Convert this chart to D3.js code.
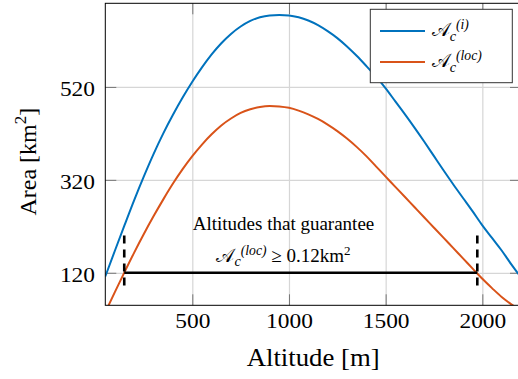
<!DOCTYPE html>
<html>
<head>
<meta charset="utf-8">
<script src="https://cdn.jsdelivr.net/npm/d3@7"></script>
<style>
  body { margin: 0; background: #fff; }
  svg { display: block; }
  svg text { font-family: "Liberation Serif", "DejaVu Serif", serif; }
  .grid line { stroke: #d6d6d6; stroke-width: 1.2; }
  .grid path { display: none; }
  .ticks line { stroke: #777; stroke-width: 1; }
  .ticks path { display: none; }
</style>
</head>
<body>
<script>
//altitude samples [m]
var altitude = [50, 100, 150, 200, 250, 300, 350, 400, 450, 500, 550, 600, 650, 700, 750, 800,
                850, 900, 950, 1000, 1050, 1100, 1150, 1200, 1250, 1300, 1350, 1400, 1450, 1500,
                1550, 1600, 1650, 1700, 1750, 1800, 1850, 1900, 1950, 2000, 2050, 2100, 2150, 2200];
//A_c^(i) [km^2]
var areaI = [112, 168, 223, 277, 328, 376, 420, 460, 497, 531, 562, 590, 614, 634, 650, 662,
             670, 674, 675, 674, 670, 663, 653, 640, 625, 607, 587, 565, 542, 517,
             489, 461, 432, 402, 371, 340, 310, 281, 252, 222, 195, 168, 138, 110];
//A_c^(loc) [km^2]
var areaLoc = [35, 79, 122, 164, 204, 242, 278, 312, 343, 371, 396, 418, 437, 452, 464, 472,
               477, 479, 478, 475, 469, 461, 451, 439, 425, 409, 391, 371, 349, 327,
               305, 283, 261, 239, 217, 195, 173, 151, 129, 107, 87, 68, 52, 37];

var xTicks = [500, 1000, 1500, 2000];
var yTicks = [120, 320, 520];

//altitude range that guarantees A_c^(loc) >= threshold
var threshold = 120;
var rangeAlt = [148, 1974];
var markerSpan = [80, 200];

var seriesNames = ["i", "loc"];
var seriesColors = ["#0072BD", "#D95319"];

var width = 518,
    height = 379;

//plot box
var pLeft = 105.3, pRight = 521, pTop = 3.3, pBottom = 305.3;

var svg = d3.select("body")
    .append("svg")
    .attr("width", width)
    .attr("height", height);

var x = d3.scaleLinear().domain([50, 2200]).range([pLeft, pRight]);
var y = d3.scaleLinear().domain([50, 700]).range([pBottom, pTop]);

//grid
svg.append("g")
    .attr("class", "grid")
    .attr("transform", "translate(0," + pBottom + ")")
    .call(d3.axisBottom(x).tickValues(xTicks).tickSize(-(pBottom - pTop)).tickFormat(""));
svg.append("g")
    .attr("class", "grid")
    .attr("transform", "translate(" + pLeft + ",0)")
    .call(d3.axisLeft(y).tickValues(yTicks).tickSize(-(pRight - pLeft)).tickFormat(""));

//inward ticks on all four sides
var tickLen = 11;
svg.append("g").attr("class", "ticks")
    .attr("transform", "translate(0," + pTop + ")")
    .call(d3.axisTop(x).tickValues(xTicks).tickSize(-tickLen).tickFormat(""));
svg.append("g").attr("class", "ticks")
    .attr("transform", "translate(" + pRight + ",0)")
    .call(d3.axisRight(y).tickValues(yTicks).tickSize(-tickLen).tickFormat(""));

var xAxis = svg.append("g").attr("class", "ticks")
    .attr("transform", "translate(0," + pBottom + ")")
    .call(d3.axisBottom(x).tickValues(xTicks).tickSize(-tickLen).tickPadding(9).tickFormat(d3.format("d")));
var yAxis = svg.append("g").attr("class", "ticks")
    .attr("transform", "translate(" + pLeft + ",0)")
    .call(d3.axisLeft(y).tickValues(yTicks).tickSize(-tickLen).tickPadding(10.3).tickFormat(d3.format("d")));

[xAxis, yAxis].forEach(function(ax) {
    ax.attr("font-family", null);
    ax.selectAll("text")
        .attr("fill", "#000")
        .style("font-size", "20px")
        .attr("lengthAdjust", "spacingAndGlyphs")
        .attr("textLength", function(d) { return String(d).length * 11.7; });
});
yAxis.selectAll("text").attr("dy", "0.44em");

//plot clip
svg.append("clipPath").attr("id", "clip")
    .append("rect")
    .attr("x", pLeft).attr("y", pTop)
    .attr("width", pRight - pLeft).attr("height", pBottom - pTop);

var line = d3.line()
    .x(function(d) { return x(d[0]); })
    .y(function(d) { return y(d[1]); })
    .curve(d3.curveMonotoneX);

var series = [areaI, areaLoc];
series.forEach(function(vals, k) {
    svg.append("path")
        .datum(altitude.map(function(a, i) { return [a, vals[i]]; }))
        .attr("clip-path", "url(#clip)")
        .attr("fill", "none")
        .attr("stroke", seriesColors[k])
        .attr("stroke-width", 2)
        .attr("d", line);
});

//threshold range
svg.append("line")
    .attr("x1", x(rangeAlt[0])).attr("x2", x(rangeAlt[1]))
    .attr("y1", y(threshold)).attr("y2", y(threshold))
    .attr("stroke", "#000")
    .attr("stroke-width", 2.6);
rangeAlt.forEach(function(a) {
    svg.append("line")
        .attr("x1", x(a)).attr("x2", x(a))
        .attr("y1", y(markerSpan[1])).attr("y2", y(markerSpan[0]))
        .attr("stroke", "#000")
        .attr("stroke-width", 2.6)
        .attr("stroke-dasharray", "8,6");
});

//frame
svg.append("rect")
    .attr("x", pLeft).attr("y", pTop)
    .attr("width", pRight - pLeft).attr("height", pBottom - pTop)
    .attr("fill", "none")
    .attr("stroke", "#000")
    .attr("stroke-width", 1);

//math label A_c^(sup)
function mathLabel(t, sup, size) {
    t.append("tspan").text("\uD835\uDC9C").style("font-size", size + "px");
    t.append("tspan").text("c").attr("dy", size * 0.25)
        .style("font-style", "italic").style("font-size", (size * 0.75) + "px");
    t.append("tspan").text("(" + sup + ")").attr("dy", -size * 0.62)
        .style("font-style", "italic").style("font-size", (size * 0.72) + "px");
}

//annotation
svg.append("text")
    .attr("x", 283.5).attr("y", 230)
    .attr("text-anchor", "middle")
    .style("font-size", "19px")
    .text("Altitudes that guarantee");
var ann = svg.append("text")
    .attr("x", 283.5).attr("y", 261.7)
    .attr("text-anchor", "middle")
    .style("font-size", "19px");
mathLabel(ann, "loc", 19);
ann.append("tspan").attr("dy", 19 * 0.37).text(" \u2265 0.12km");
ann.append("tspan").attr("dy", -7).style("font-size", "13px").text("2");

//legend
var legend = svg.append("g");
legend.append("rect")
    .attr("x", 370.3).attr("y", 9.3)
    .attr("width", 142).attr("height", 73.4)
    .attr("fill", "#fff")
    .attr("stroke", "#333")
    .attr("stroke-width", 1);
seriesNames.forEach(function(name, k) {
    var ly = 31 + k * 31;
    legend.append("line")
        .attr("x1", 380).attr("x2", 425)
        .attr("y1", ly).attr("y2", ly)
        .attr("stroke", seriesColors[k])
        .attr("stroke-width", 2);
    var t = legend.append("text")
        .attr("x", 431.7).attr("y", ly + 5)
        .style("font-size", "19px");
    mathLabel(t, name, 19);
});

//axis titles
svg.append("text")
    .attr("x", (pLeft + pRight) / 2).attr("y", 366)
    .attr("text-anchor", "middle")
    .style("font-size", "25px")
    .attr("textLength", 133)
    .attr("lengthAdjust", "spacingAndGlyphs")
    .text("Altitude [m]");

var yt = svg.append("text")
    .attr("transform", "translate(36,161.7) rotate(-90)")
    .attr("text-anchor", "middle")
    .style("font-size", "24px");
yt.append("tspan").text("Area [km");
yt.append("tspan").attr("dy", -10).style("font-size", "17px").text("2");
yt.append("tspan").attr("dy", 10).text("]");
</script>
</body>
</html>
